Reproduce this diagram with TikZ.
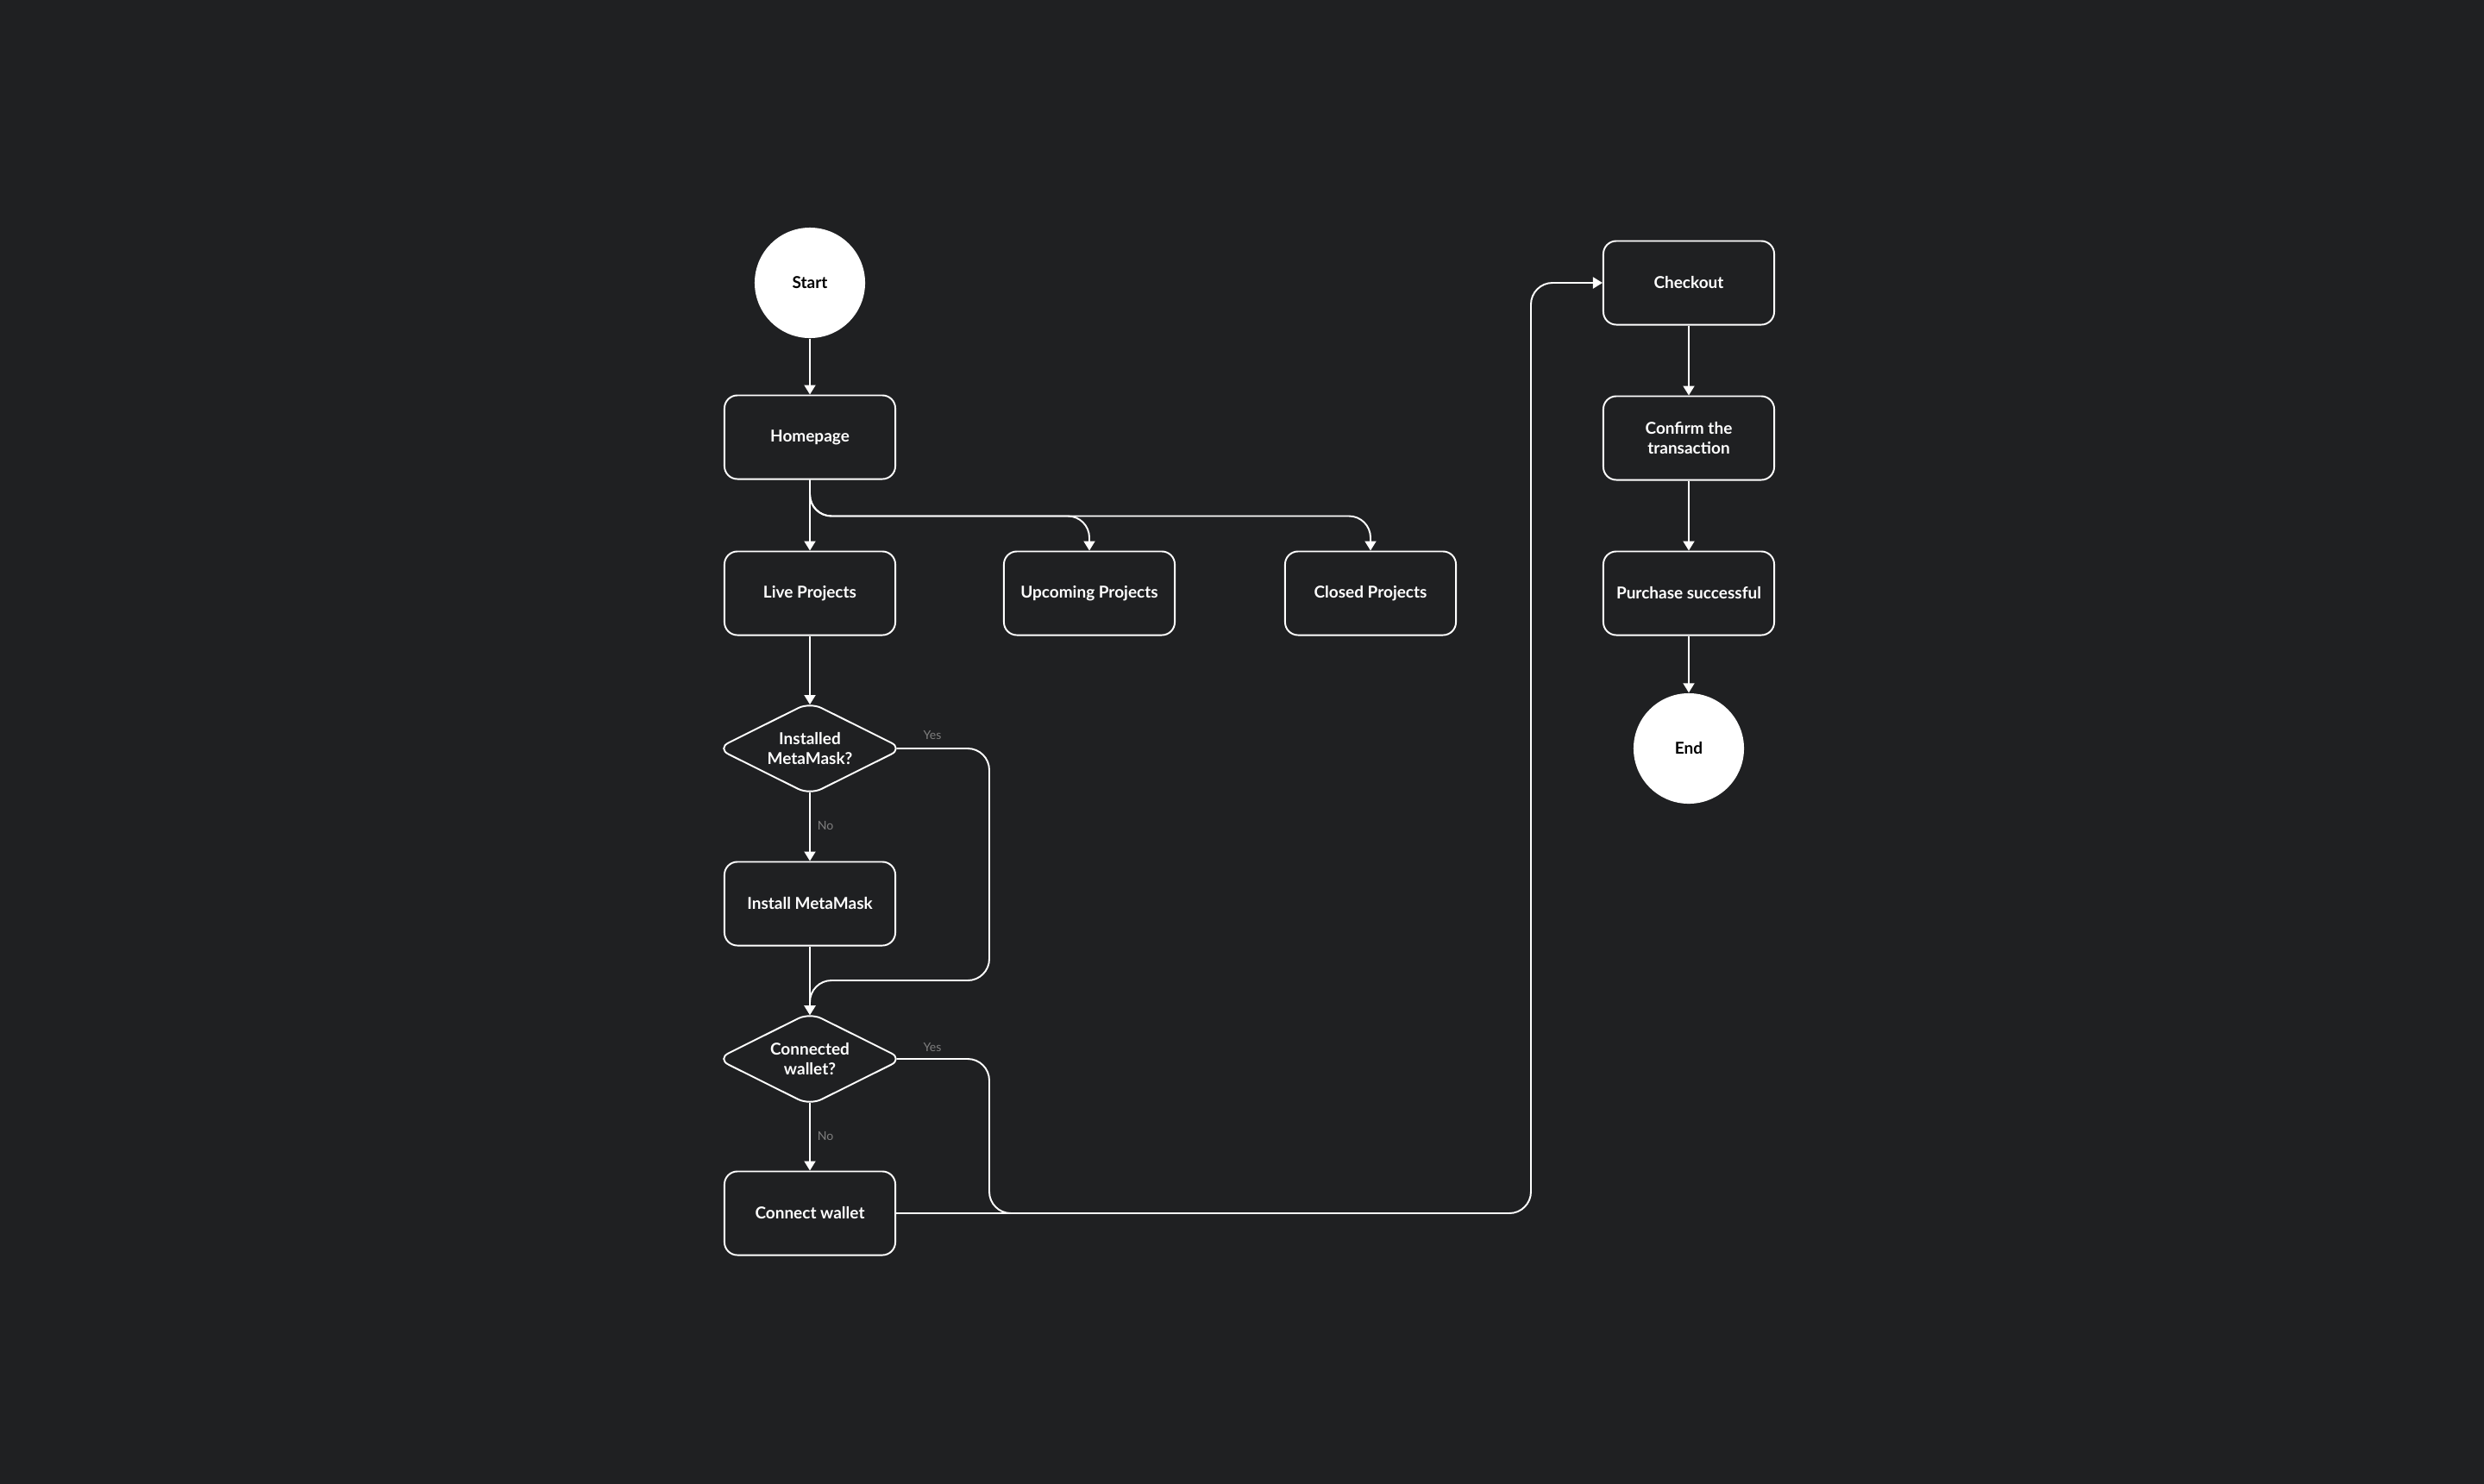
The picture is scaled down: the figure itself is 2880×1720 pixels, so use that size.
\documentclass[tikz,border=0pt]{standalone}
\usepackage{fontspec}
\setmainfont{Lato}
\usetikzlibrary{positioning,shapes.geometric,arrows.meta}
\definecolor{hintergrund}{HTML}{1F2022}
\definecolor{labelgrau}{HTML}{7E7E7E}
\tikzset{myline/.style={draw=white, line width=0.55pt}}
\tikzset{myarrow/.style={myline, -{Triangle[length=1.1mm, width=1.3mm]}}}
\tikzset{pagebox/.style={draw=white, line width=0.55pt, rounded corners=1.5mm, minimum width=1.98cm, minimum height=0.97cm, inner sep=0pt, align=center, text=white, font=\bfseries\fontsize{5.4}{6.7}\selectfont}}
\tikzset{decision/.style={diamond, aspect=2, draw=white, line width=0.55pt, rounded corners=1.5mm, minimum width=2.16cm, minimum height=1.08cm, inner sep=0pt, align=center, text=white, font=\bfseries\fontsize{5.4}{6.7}\selectfont}}
\tikzset{terminal/.style={circle, fill=white, minimum size=1.28cm, inner sep=0pt, text=black, font=\bfseries\fontsize{5.4}{6.7}\selectfont}}
\tikzset{antwort/.style={text=labelgrau, inner sep=0pt, font=\fontsize{4}{5}\selectfont}}

\begin{document}
\begin{tikzpicture}[x=0.01cm, y=-0.01cm]
		\useasboundingbox (0,0) rectangle (2880,1720);
		\fill[hintergrund] (-20,-20) rectangle (2900,1740);
		
		% LINKE SPALTE
		\node[terminal] (start) at (939,328) {Start};
		\node[pagebox] (home) at (939,507) {Homepage};
		\node[pagebox] (live) at (939,688) {Live Projects};
		\node[pagebox] (upc) at (1263,688) {Upcoming Projects};
		\node[pagebox] (clo) at (1589,688) {Closed Projects};
		\node[decision] (inst) at (939,868) {Installed\\MetaMask?};
		\node[pagebox] (mm) at (939,1048) {Install MetaMask};
		\node[decision] (conn) at (939,1228) {Connected\\wallet?};
		\node[pagebox] (wal) at (939,1407) {Connect wallet};
		
		\node[antwort] (yesA) at (1081,853) {Yes};
		\node[antwort] (noA) at (957,957) {No};
		\node[antwort] (yesB) at (1081,1214) {Yes};
		\node[antwort] (noB) at (957,1317) {No};
		
		\coordinate (yes1) at (1147,1137);
		\coordinate (yes2) at (1147,1407);
		\coordinate (merge) at (1300,1407);
		\coordinate (turn) at (1775,1407);
		
		\draw[myarrow] (start) -- (home);
		\draw[myarrow] (home) -- (live);
		\draw[myarrow, rounded corners=2.5mm] (home.south) |- ([yshift=4mm]upc.north) -- (upc.north);
		\draw[myarrow, rounded corners=2.5mm] (home.south) |- ([yshift=4mm]clo.north) -- (clo.north);
		\draw[myarrow] (live) -- ([yshift=-0.4mm]inst.north);
		\draw[myarrow] ([yshift=0.4mm]inst.south) -- (mm);
		\draw[myarrow] (mm) -- ([yshift=-0.4mm]conn.north);
		\draw[myarrow, rounded corners=2.5mm] ([xshift=-0.8mm]inst.east) -| (yes1) -| ([yshift=-0.4mm]conn.north);
		\draw[myarrow] ([yshift=0.4mm]conn.south) -- (wal);
		\draw[myline, rounded corners=2.5mm] ([xshift=-0.8mm]conn.east) -| (yes2) -- (merge);
		
		% RECHTE SPALTE
		\node[pagebox] (chk) at (1958,328) {Checkout};
		\node[pagebox] (conf) at (1958,508) {Confirm the\\transaction};
		\node[pagebox] (buy) at (1958,688) {Purchase successful};
		\node[terminal] (end) at (1958,868) {End};
		
		\draw[myarrow, rounded corners=2.5mm] (wal.east) -- (turn) |- (chk.west);
		\draw[myarrow] (chk) -- (conf);
		\draw[myarrow] (conf) -- (buy);
		\draw[myarrow] (buy) -- (end);
		
	\end{tikzpicture}
\end{document}
